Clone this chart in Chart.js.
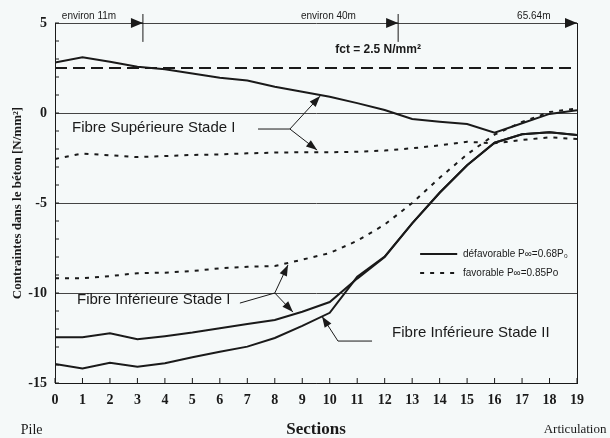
<!DOCTYPE html>
<html>
<head>
<meta charset="utf-8">
<script src="https://cdn.jsdelivr.net/npm/chart.js@4.4.1/dist/chart.umd.min.js"></script>
<style>
    html, body { margin: 0; padding: 0; background: #f5f9f9; }
    canvas { display: block; }
</style>
</head>
<body>
<canvas id="myChart" width="610" height="438"></canvas>
<script>
// sections along the span (0 = Pile, 19 = Articulation)
var sections = [0, 1, 2, 3, 4, 5, 6, 7, 8, 9, 10, 11, 12, 13, 14, 15, 16, 17, 18, 19];

// stresses in N/mm2
var supDefav = [2.8, 3.1, 2.85, 2.57, 2.43, 2.2, 1.96, 1.8, 1.46, 1.18, 0.9, 0.55, 0.17, -0.33, -0.48, -0.61, -1.1, -0.57, -0.05, 0.15];
var supFav = [-2.55, -2.25, -2.35, -2.45, -2.39, -2.33, -2.3, -2.24, -2.2, -2.18, -2.18, -2.15, -2.09, -1.96, -1.8, -1.6, -1.68, -1.5, -1.35, -1.45];
var infFav = [-9.18, -9.18, -9.06, -8.9, -8.87, -8.78, -8.63, -8.54, -8.5, -8.15, -7.78, -7.1, -6.2, -5.0, -3.6, -2.3, -1.2, -0.5, 0.05, 0.25];
var infDefav = [-12.46, -12.46, -12.24, -12.57, -12.4, -12.2, -11.96, -11.72, -11.5, -11.04, -10.5, -9.2, -8.0, -6.13, -4.43, -2.9, -1.65, -1.18, -1.07, -1.22];
var infStade2 = [-13.94, -14.2, -13.87, -14.09, -13.9, -13.57, -13.26, -12.98, -12.5, -11.83, -11.1, -9.1, -7.98, -6.13, -4.43, -2.9, -1.65, -1.18, -1.07, -1.22];
var fct = 2.5;

var yMin = -15, yMax = 5, yStep = 5;

var ink = '#1a1a1a';
var sansFont = '"Liberation Sans", Arial, sans-serif';
var serifFont = '"Liberation Serif", "Times New Roman", serif';

function pts(values) {
    return values.map(function (v, i) { return { x: sections[i], y: v }; });
}

function lineSet(label, values, dash) {
    return {
        label: label,
        data: pts(values),
        borderColor: ink,
        borderWidth: 2,
        borderDash: dash,
        pointRadius: 0,
        tension: 0,
        fill: false
    };
}

function arrow(ctx, x1, y1, x2, y2, len, half) {
    ctx.beginPath();
    ctx.moveTo(x1, y1);
    ctx.lineTo(x2, y2);
    ctx.stroke();
    var a = Math.atan2(y2 - y1, x2 - x1);
    ctx.beginPath();
    ctx.moveTo(x2, y2);
    ctx.lineTo(x2 - len * Math.cos(a) + half * Math.sin(a), y2 - len * Math.sin(a) - half * Math.cos(a));
    ctx.lineTo(x2 - len * Math.cos(a) - half * Math.sin(a), y2 - len * Math.sin(a) + half * Math.cos(a));
    ctx.closePath();
    ctx.fill();
}

var background = {
    id: 'background',
    beforeDraw: function (chart) {
        var ctx = chart.ctx;
        ctx.save();
        ctx.fillStyle = '#f5f9f9';
        ctx.fillRect(0, 0, chart.width, chart.height);
        ctx.restore();
    }
};

var notes = {
    id: 'notes',
    afterDatasetsDraw: function (chart) {
        var ctx = chart.ctx;
        var xs = chart.scales.x, ys = chart.scales.y;
        var area = chart.chartArea;
        function X(v) { return xs.getPixelForValue(v); }
        function Y(v) { return ys.getPixelForValue(v); }

        ctx.save();
        ctx.strokeStyle = ink;
        ctx.fillStyle = ink;
        ctx.lineWidth = 1;

        // inward minor ticks
        for (var v = yMin; v <= yMax; v++) {
            ctx.beginPath();
            ctx.moveTo(area.left, Y(v));
            ctx.lineTo(area.left + 4, Y(v));
            ctx.stroke();
        }
        sections.forEach(function (s) {
            ctx.beginPath();
            ctx.moveTo(X(s), area.bottom);
            ctx.lineTo(X(s), area.bottom - 5);
            ctx.stroke();
        });

        // length markers along the top
        [3.2, 12.49, 19].forEach(function (s) {
            arrow(ctx, X(s) - 12, Y(yMax), X(s), Y(yMax), 12, 5);
        });
        [3.2, 12.49].forEach(function (s) {
            ctx.beginPath();
            ctx.moveTo(X(s), Y(5.5));
            ctx.lineTo(X(s), Y(3.95));
            ctx.stroke();
        });
        ctx.font = '10px ' + sansFont;
        ctx.textBaseline = 'middle';
        ctx.textAlign = 'left';
        ctx.fillText('environ 11m', X(0.25), Y(5.38));
        ctx.fillText('environ 40m', X(8.95), Y(5.38));
        ctx.fillText('65.64m', X(16.82), Y(5.38));

        ctx.font = 'bold 12px ' + sansFont;
        ctx.fillText('fct = 2.5 N/mm\u00b2', X(10.2), Y(3.5));

        // curve labels
        ctx.font = '15px ' + sansFont;
        ctx.fillText('Fibre Sup\u00e9rieure Stade I', X(0.62), Y(-0.83));
        ctx.fillText('Fibre Inf\u00e9rieure Stade I', X(0.8), Y(-10.4));
        ctx.fillText('Fibre Inf\u00e9rieure Stade II', X(12.27), Y(-12.2));

        ctx.beginPath();
        ctx.moveTo(X(7.39), Y(-0.89));
        ctx.lineTo(X(8.55), Y(-0.89));
        ctx.stroke();
        arrow(ctx, X(8.55), Y(-0.89), X(9.65), Y(0.94), 11, 4);
        arrow(ctx, X(8.55), Y(-0.89), X(9.54), Y(-2.06), 11, 4);

        ctx.beginPath();
        ctx.moveTo(X(6.73), Y(-10.56));
        ctx.lineTo(X(8.0), Y(-10.0));
        ctx.stroke();
        arrow(ctx, X(8.0), Y(-10.0), X(8.48), Y(-8.44), 11, 4);
        arrow(ctx, X(8.0), Y(-10.0), X(8.66), Y(-11.06), 11, 4);

        ctx.beginPath();
        ctx.moveTo(X(11.54), Y(-12.67));
        ctx.lineTo(X(10.3), Y(-12.67));
        ctx.stroke();
        arrow(ctx, X(10.3), Y(-12.67), X(9.72), Y(-11.3), 11, 4);

        // legend
        ctx.lineWidth = 2;
        ctx.beginPath();
        ctx.moveTo(X(13.29), Y(-7.83));
        ctx.lineTo(X(14.64), Y(-7.83));
        ctx.stroke();
        ctx.setLineDash([4, 6]);
        ctx.beginPath();
        ctx.moveTo(X(13.29), Y(-8.89));
        ctx.lineTo(X(14.64), Y(-8.89));
        ctx.stroke();
        ctx.setLineDash([]);
        ctx.font = '10px ' + sansFont;
        ctx.fillText('d\u00e9favorable P\u221e=0.68P\u2080', X(14.85), Y(-7.83));
        ctx.fillText('favorable P\u221e=0.85Po', X(14.85), Y(-8.89));

        // ends of the span
        ctx.font = '14px ' + serifFont;
        ctx.textAlign = 'center';
        ctx.fillText('Pile', X(-0.85), 430);
        ctx.font = '13px ' + serifFont;
        ctx.fillText('Articulation', X(18.93), 430);
        ctx.restore();
    }
};

var ctx1 = document.getElementById('myChart').getContext('2d');
new Chart(ctx1, {
    type: 'line',
    data: {
        datasets: [
            {
                label: 'fct',
                data: [{ x: sections[0], y: fct }, { x: sections[sections.length - 1], y: fct }],
                borderColor: ink,
                borderWidth: 2,
                borderDash: [12, 6],
                pointRadius: 0,
                fill: false
            },
            lineSet('Fibre Sup\u00e9rieure Stade I d\u00e9favorable', supDefav, []),
            lineSet('Fibre Sup\u00e9rieure Stade I favorable', supFav, [4, 6]),
            lineSet('Fibre Inf\u00e9rieure Stade I favorable', infFav, [4, 6]),
            lineSet('Fibre Inf\u00e9rieure Stade I d\u00e9favorable', infDefav, []),
            lineSet('Fibre Inf\u00e9rieure Stade II', infStade2, [])
        ]
    },
    options: {
        responsive: false,
        animation: false,
        layout: { padding: { top: 23, right: 33, left: 0, bottom: 0 } },
        plugins: {
            legend: { display: false },
            tooltip: { enabled: false }
        },
        scales: {
            x: {
                type: 'linear',
                min: 0,
                max: 19,
                afterFit: function (scale) { scale.height = 55; },
                ticks: {
                    stepSize: 1,
                    autoSkip: false,
                    maxRotation: 0,
                    padding: 9,
                    color: ink,
                    font: { family: serifFont, size: 14, weight: 'bold' }
                },
                grid: {
                    drawTicks: false,
                    color: function (c) { return c.tick && c.tick.value === 19 ? ink : 'rgba(0,0,0,0)'; }
                },
                border: { display: true, color: ink, width: 1 },
                title: {
                    display: true,
                    text: 'Sections',
                    color: ink,
                    padding: { top: 0, bottom: 0 },
                    font: { family: serifFont, size: 17, weight: 'bold', lineHeight: 1 }
                }
            },
            y: {
                min: yMin,
                max: yMax,
                afterFit: function (scale) { scale.width = 55; },
                ticks: {
                    stepSize: yStep,
                    padding: 8,
                    color: ink,
                    font: { family: serifFont, size: 14, weight: 'bold' }
                },
                grid: { drawTicks: false, color: '#444', lineWidth: 1 },
                border: { display: true, color: ink, width: 1 },
                title: {
                    display: true,
                    text: 'Contraintes dans le b\u00e9ton [N/mm\u00b2]',
                    color: ink,
                    padding: { top: 10, bottom: 0 },
                    font: { family: serifFont, size: 13, weight: 'bold' }
                }
            }
        }
    },
    plugins: [background, notes]
});
</script>
</body>
</html>
